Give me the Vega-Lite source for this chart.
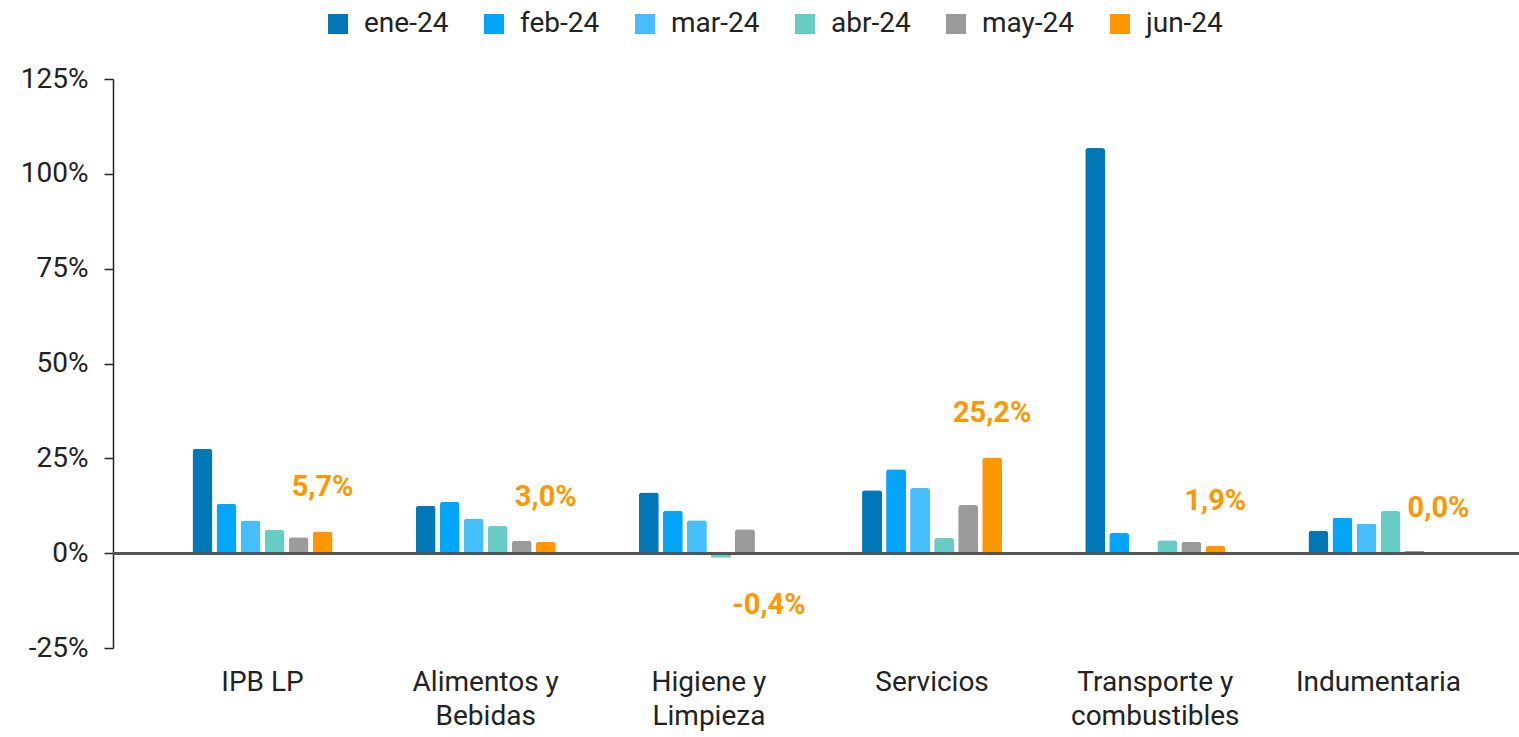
{
  "$schema": "https://vega.github.io/schema/vega-lite/v6.json",
  "autosize": "none",
  "width": 1406,
  "height": 569,
  "padding": {"left": 113, "top": 79, "right": 0, "bottom": 89},
  "config": {
    "font": "Roboto",
    "view": {"stroke": null},
    "locale": {"number": {"decimal": ",", "thousands": ".", "grouping": [3], "currency": ["$", ""], "minus": "-"}}
  },
  "data": {
    "values": [
      {"cat": "IPB LP", "mes": "ene-24", "v": 0.275},
      {"cat": "IPB LP", "mes": "feb-24", "v": 0.130},
      {"cat": "IPB LP", "mes": "mar-24", "v": 0.086},
      {"cat": "IPB LP", "mes": "abr-24", "v": 0.061},
      {"cat": "IPB LP", "mes": "may-24", "v": 0.042},
      {"cat": "IPB LP", "mes": "jun-24", "v": 0.057},
      {"cat": "Alimentos y Bebidas", "mes": "ene-24", "v": 0.125},
      {"cat": "Alimentos y Bebidas", "mes": "feb-24", "v": 0.135},
      {"cat": "Alimentos y Bebidas", "mes": "mar-24", "v": 0.091},
      {"cat": "Alimentos y Bebidas", "mes": "abr-24", "v": 0.072},
      {"cat": "Alimentos y Bebidas", "mes": "may-24", "v": 0.033},
      {"cat": "Alimentos y Bebidas", "mes": "jun-24", "v": 0.030},
      {"cat": "Higiene y Limpieza", "mes": "ene-24", "v": 0.160},
      {"cat": "Higiene y Limpieza", "mes": "feb-24", "v": 0.112},
      {"cat": "Higiene y Limpieza", "mes": "mar-24", "v": 0.087},
      {"cat": "Higiene y Limpieza", "mes": "abr-24", "v": -0.012},
      {"cat": "Higiene y Limpieza", "mes": "may-24", "v": 0.063},
      {"cat": "Higiene y Limpieza", "mes": "jun-24", "v": -0.004},
      {"cat": "Servicios", "mes": "ene-24", "v": 0.166},
      {"cat": "Servicios", "mes": "feb-24", "v": 0.221},
      {"cat": "Servicios", "mes": "mar-24", "v": 0.172},
      {"cat": "Servicios", "mes": "abr-24", "v": 0.040},
      {"cat": "Servicios", "mes": "may-24", "v": 0.127},
      {"cat": "Servicios", "mes": "jun-24", "v": 0.252},
      {"cat": "Transporte y combustibles", "mes": "ene-24", "v": 1.068},
      {"cat": "Transporte y combustibles", "mes": "feb-24", "v": 0.053},
      {"cat": "Transporte y combustibles", "mes": "abr-24", "v": 0.034},
      {"cat": "Transporte y combustibles", "mes": "may-24", "v": 0.030},
      {"cat": "Transporte y combustibles", "mes": "jun-24", "v": 0.019},
      {"cat": "Indumentaria", "mes": "ene-24", "v": 0.059},
      {"cat": "Indumentaria", "mes": "feb-24", "v": 0.094},
      {"cat": "Indumentaria", "mes": "mar-24", "v": 0.078},
      {"cat": "Indumentaria", "mes": "abr-24", "v": 0.111},
      {"cat": "Indumentaria", "mes": "may-24", "v": 0.006},
      {"cat": "Indumentaria", "mes": "jun-24", "v": 0.0}
    ]
  },
  "encoding": {
    "x": {
      "field": "cat", "type": "nominal", "sort": null,
      "scale": {"range": [0, 1415], "paddingInner": 0.368, "paddingOuter": 0.354},
      "axis": {
        "title": null, "domain": false, "ticks": false, "labelAngle": 0,
        "labelFontSize": 28, "labelColor": "#222", "labelPadding": 20, "labelLineHeight": 34,
        "labelBaseline": "top",
        "labelExpr": "datum.label == 'Alimentos y Bebidas' ? ['Alimentos y','Bebidas'] : datum.label == 'Higiene y Limpieza' ? ['Higiene y','Limpieza'] : datum.label == 'Transporte y combustibles' ? ['Transporte y','combustibles'] : datum.label"
      }
    },
    "xOffset": {
      "field": "mes", "type": "nominal",
      "scale": {"domain": ["ene-24", "feb-24", "mar-24", "abr-24", "may-24", "jun-24"], "paddingInner": 0.17, "paddingOuter": 0.02}
    },
    "y": {
      "field": "v", "type": "quantitative",
      "scale": {"domain": [-0.25, 1.25], "nice": false},
      "axis": {
        "title": null, "format": ".0%", "values": [-0.25, 0, 0.25, 0.5, 0.75, 1, 1.25],
        "grid": false, "domainColor": "#222", "domainWidth": 1.5,
        "tickColor": "#222", "tickWidth": 1.5, "tickSize": 9,
        "labelFontSize": 28, "labelColor": "#222", "labelPadding": 16
      }
    }
  },
  "layer": [
    {
      "mark": {"type": "bar", "cornerRadiusEnd": 3},
      "encoding": {
        "color": {
          "field": "mes", "type": "nominal",
          "scale": {
            "domain": ["ene-24", "feb-24", "mar-24", "abr-24", "may-24", "jun-24"],
            "range": ["#0277B8", "#03A5F8", "#47BEFC", "#66CCC4", "#9B9B9B", "#FF9800"]
          },
          "legend": {
            "title": null, "orient": "none", "direction": "horizontal",
            "legendX": 211, "legendY": -69,
            "symbolType": "square", "symbolSize": 400, "symbolStrokeWidth": 0,
            "labelFontSize": 28, "labelColor": "#222", "labelOffset": 12, "columnPadding": 31
          }
        }
      }
    },
    {
      "mark": {"type": "rule", "color": "#555", "strokeWidth": 2},
      "encoding": {"y": {"datum": 0}, "x": null, "xOffset": null}
    },
    {
      "transform": [{"filter": "datum.mes == 'jun-24' && datum.v >= 0"}],
      "mark": {"type": "text", "dy": -45, "fontSize": 29, "fontWeight": "bold", "color": "#FF9800"},
      "encoding": {"text": {"field": "v", "type": "quantitative", "format": ".1%"}}
    },
    {
      "transform": [{"filter": "datum.mes == 'jun-24' && datum.v < 0"}],
      "mark": {"type": "text", "dy": 50, "fontSize": 29, "fontWeight": "bold", "color": "#FF9800"},
      "encoding": {"text": {"field": "v", "type": "quantitative", "format": ".1%"}}
    }
  ]
}
